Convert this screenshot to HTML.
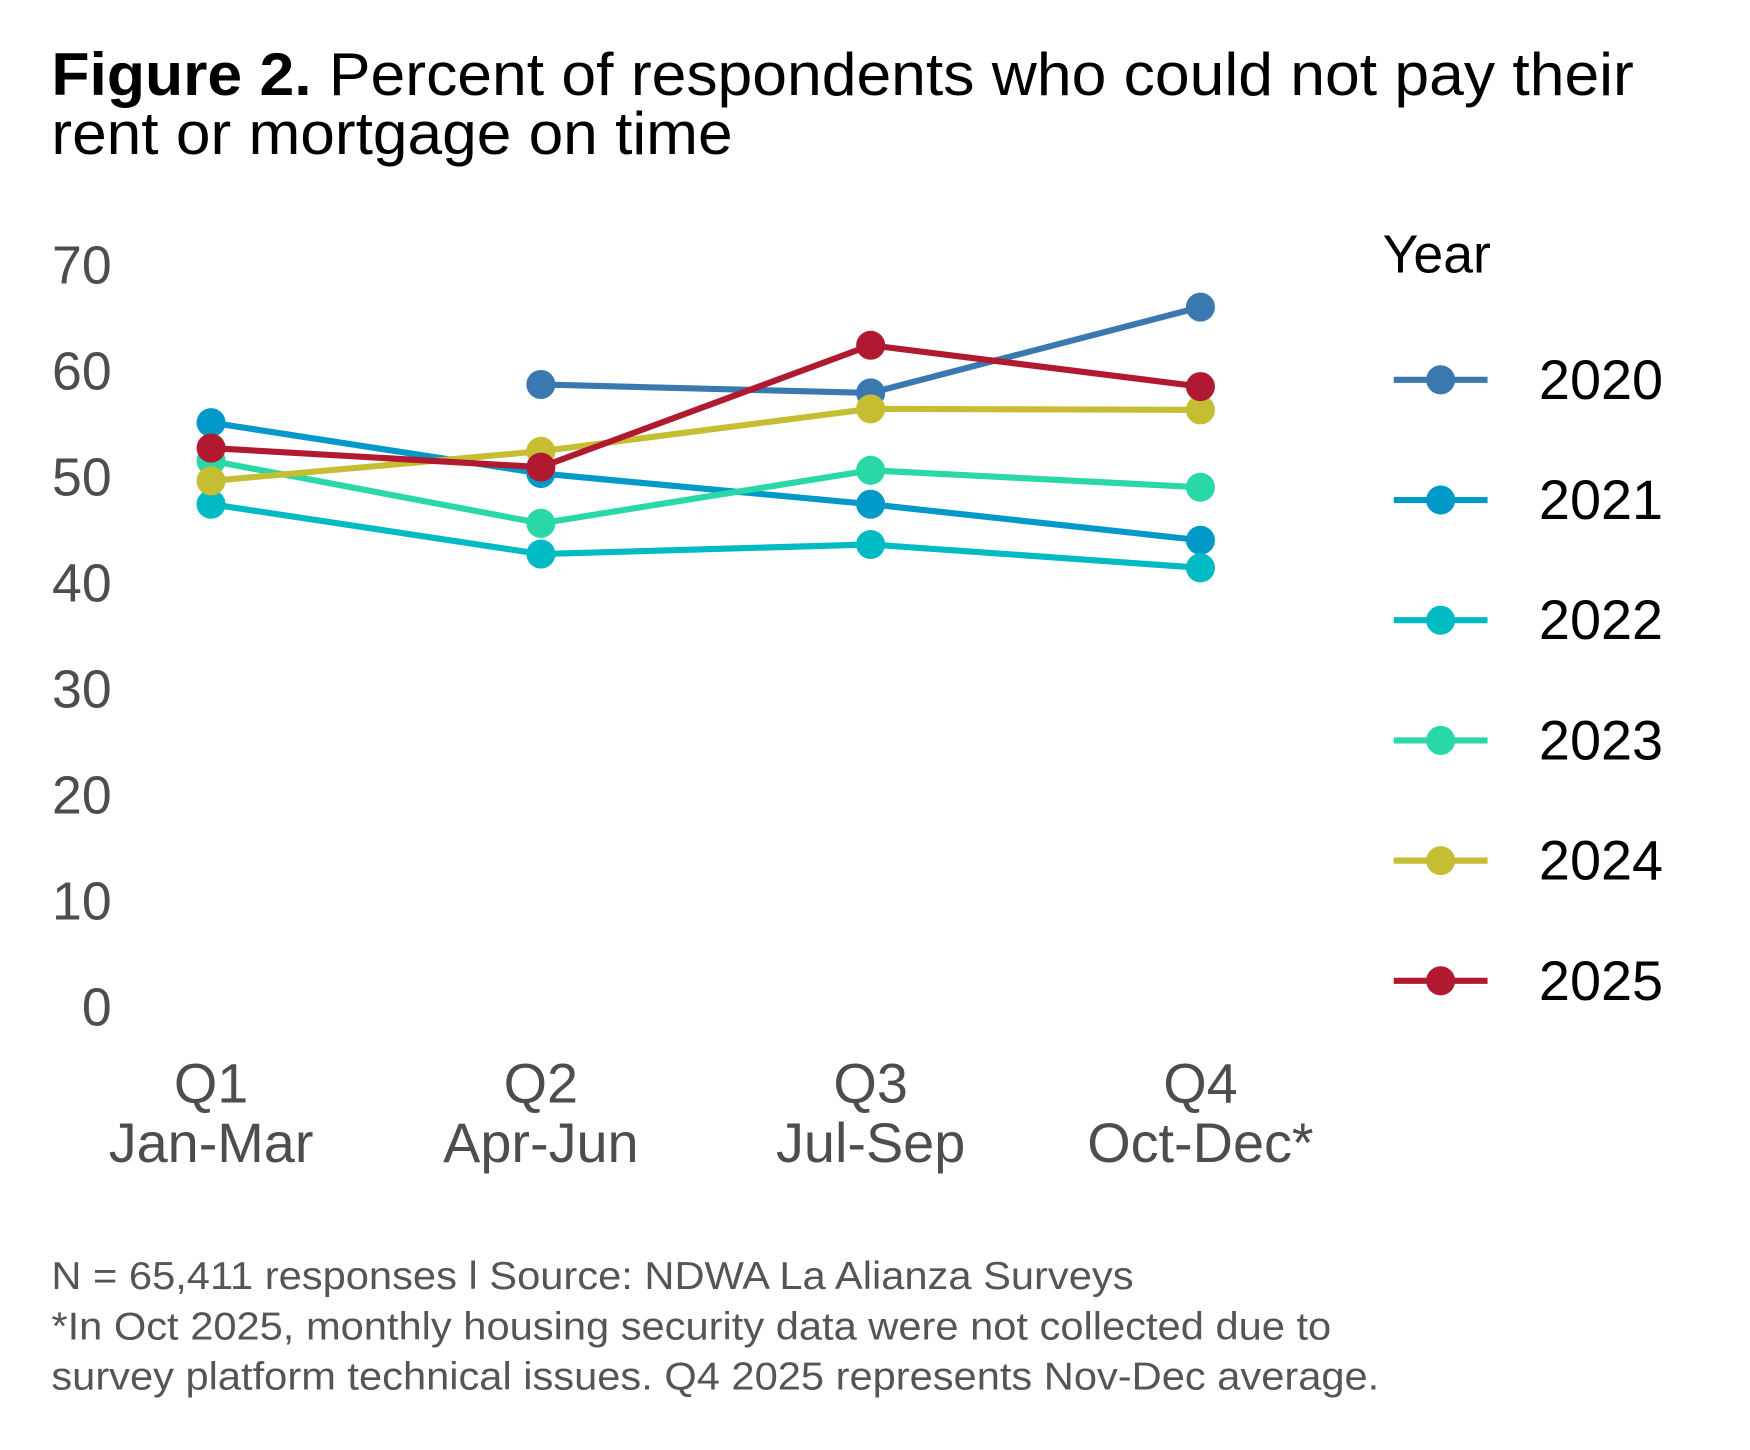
<!DOCTYPE html>
<html><head><meta charset="utf-8"><style>
html,body{margin:0;padding:0;background:#fff;width:1750px;height:1450px;overflow:hidden}
svg{display:block;font-family:"Liberation Sans",sans-serif}
</style></head><body>
<svg id="chart" width="1750" height="1450" viewBox="0 0 1567 1298" preserveAspectRatio="none" xmlns="http://www.w3.org/2000/svg">
<text x="46" y="85" font-size="54" fill="#000" textLength="1417" lengthAdjust="spacingAndGlyphs"><tspan font-weight="bold">Figure 2.</tspan> Percent of respondents who could not pay their</text>
<text x="46" y="138" font-size="54" fill="#000" textLength="610" lengthAdjust="spacingAndGlyphs">rent or mortgage on time</text>
<g id="yaxis"></g>
<g id="xaxis"></g>
<g id="series"></g>
<g id="legend">
<text x="1238" y="244" font-size="48" fill="#000">Year</text>
</g>
<g font-size="35" fill="#555">
<text x="46" y="1154" textLength="969" lengthAdjust="spacingAndGlyphs">N = 65,411 responses l Source: NDWA La Alianza Surveys</text>
<text x="46" y="1199" textLength="1146" lengthAdjust="spacingAndGlyphs">*In Oct 2025, monthly housing security data were not collected due to</text>
<text x="46" y="1244" textLength="1189" lengthAdjust="spacingAndGlyphs">survey platform technical issues. Q4 2025 represents Nov-Dec average.</text>
</g>
</svg>
<script>
const categories = ["Q1","Q2","Q3","Q4"];
const catSub = ["Jan-Mar","Apr-Jun","Jul-Sep","Oct-Dec*"];
const years = ["2020","2021","2022","2023","2024","2025"];
const colors = ["#3a78b0","#0099c9","#00bac4","#2ad7a6","#c5be32","#b0192f"];
const v2020 = [null,58.7,57.9,66.0];
const v2021 = [55.1,50.3,47.4,44.0];
const v2022 = [47.4,42.7,43.6,41.4];
const v2023 = [51.5,45.6,50.6,49.0];
const v2024 = [49.6,52.4,56.4,56.3];
const v2025 = [52.7,50.9,62.4,58.5];
const yTicks = [0,10,20,30,40,50,60,70];
const seriesVals = [v2020,v2021,v2022,v2023,v2024,v2025];

const NS="http://www.w3.org/2000/svg";
function yS(v){return 901 - v*9.486;}
function xS(i){return 189 + i*295.3;}
function mk(tag,attrs,parent){const e=document.createElementNS(NS,tag);for(const k in attrs)e.setAttribute(k,attrs[k]);parent.appendChild(e);return e;}

const ya=document.getElementById('yaxis');
yTicks.forEach(t=>{
  const e=mk('text',{x:100,y:yS(t)+17,'text-anchor':'end','font-size':48,fill:'#4d4d4d'},ya);
  
  
  e.textContent=t;
});
const xa=document.getElementById('xaxis');
categories.forEach((c,i)=>{
  const e=mk('text',{x:xS(i),y:987,'text-anchor':'middle','font-size':50,fill:'#4d4d4d'},xa);
  
  
  e.textContent=c;
  const s=mk('text',{x:xS(i),y:1040,'text-anchor':'middle','font-size':50,fill:'#4d4d4d'},xa);
  
  
  s.textContent=catSub[i];
});
const sg=document.getElementById('series');
seriesVals.forEach((vals,si)=>{
  const g=mk('g',{},sg);
  
  
  const pts=[];
  vals.forEach((v,i)=>{if(v!==null)pts.push(xS(i)+','+yS(v));});
  const pl=mk('polyline',{points:pts.join(' '),fill:'none',stroke:colors[si],'stroke-width':5.5,'stroke-linejoin':'round'},g);
  
  
  vals.forEach((v,i)=>{
    if(v===null)return;
    const c=mk('circle',{cx:xS(i),cy:yS(v),r:13,fill:colors[si]},g);
    
    
  });
});
const lg=document.getElementById('legend');
years.forEach((y,i)=>{
  const cy=340+i*107.6;
  const g=mk('g',{},lg);
  
  
  mk('line',{x1:1248,x2:1332,y1:cy,y2:cy,stroke:colors[i],'stroke-width':5.5},g);
  mk('circle',{cx:1290,cy:cy,r:13,fill:colors[i]},g);
  const t=mk('text',{x:1378,y:cy+17,'font-size':50,fill:'#000'},g);
  t.textContent=y;
});
</script>
</body></html>
